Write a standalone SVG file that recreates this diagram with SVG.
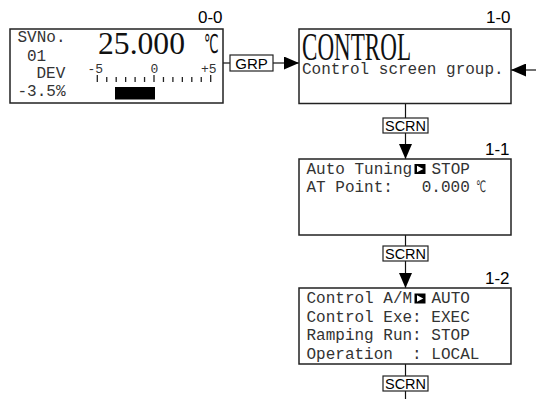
<svg xmlns="http://www.w3.org/2000/svg" width="536" height="399" viewBox="0 0 536 399">
<defs>
<style>
.box{fill:#fff;stroke:#222;stroke-width:1.5}
.lbl{fill:#fff;stroke:#222;stroke-width:1.2}
.ln{fill:none;stroke:#111;stroke-width:1.2}
.mono{font-family:"Liberation Mono","DejaVu Sans Mono",monospace;font-size:16px;fill:#333}
.big{font-family:"Liberation Serif","DejaVu Serif",serif;fill:#111}
.sans{font-family:"Liberation Sans",Arial,sans-serif;font-size:15px;fill:#000}
.id{font-family:"Liberation Sans",Arial,sans-serif;font-size:17px;fill:#000;text-anchor:end}
.tick{stroke:#222;stroke-width:1.3}
</style>
<marker id="ah" markerUnits="userSpaceOnUse" markerWidth="15" markerHeight="13" refX="15" refY="6.5" orient="auto">
<path d="M0,0 L15,6.5 L0,13 z" fill="#000"/>
</marker>
<g id="mk"><rect x="0" y="0" width="11" height="10" fill="#000"/><path d="M2.5,1.7 L2.5,8.3 L8.8,5 z" fill="#fff"/></g>
</defs>

<g id="connectors">
<path class="ln" d="M223,63 H230"/>
<path class="ln" d="M273,63 H299" marker-end="url(#ah)"/>
<path class="ln" d="M536,70 H511" marker-end="url(#ah)"/>
<path class="ln" d="M405.5,103.5 V118"/>
<path class="ln" d="M405.5,133 V159" marker-end="url(#ah)"/>
<path class="ln" d="M405.5,235 V246"/>
<path class="ln" d="M405.5,261 V288" marker-end="url(#ah)"/>
<path class="ln" d="M405.5,364 V376"/>
<path class="ln" d="M405.5,391 V399"/>
<g id="grp"><rect class="lbl" x="230" y="55" width="43" height="16"/><text class="sans" x="251.5" y="68.5" text-anchor="middle">GRP</text></g>
<g id="scrn1"><rect class="lbl" x="383" y="118" width="45" height="15"/><text class="sans" x="405.5" y="131" text-anchor="middle" textLength="41" lengthAdjust="spacingAndGlyphs">SCRN</text></g>
<g id="scrn2"><rect class="lbl" x="383" y="246" width="45" height="15"/><text class="sans" x="405.5" y="259" text-anchor="middle" textLength="41" lengthAdjust="spacingAndGlyphs">SCRN</text></g>
<g id="scrn3"><rect class="lbl" x="383" y="376" width="45" height="15"/><text class="sans" x="405.5" y="389" text-anchor="middle" textLength="41" lengthAdjust="spacingAndGlyphs">SCRN</text></g>
</g>

<g id="node-0-0">
<text class="id" x="222.5" y="23">0-0</text>
<rect class="box" x="10" y="29" width="213" height="74"/>
<text class="mono" x="17.5" y="42">SVNo.</text>
<text class="mono" x="27" y="61">01</text>
<text class="mono" x="36.5" y="78">DEV</text>
<text class="mono" x="17.5" y="96">-3.5%</text>
<text class="big" x="98" y="54" style="font-size:31px" textLength="87" lengthAdjust="spacingAndGlyphs">25.000</text>
<text transform="translate(204,53) scale(0.5,1)" style="font-family:'DejaVu Sans',sans-serif;font-size:26px;fill:#111">℃</text>
<text class="mono" x="87.5" y="73" style="font-size:13px">-5</text>
<text class="mono" x="154.5" y="73" style="font-size:13px" text-anchor="middle">0</text>
<text class="mono" x="201" y="73" style="font-size:13px">+5</text>
<g>
<line class="tick" x1="97.3" y1="75" x2="97.3" y2="82"/>
<line class="tick" x1="106.75" y1="77" x2="106.75" y2="82"/>
<line class="tick" x1="116.2" y1="77" x2="116.2" y2="82"/>
<line class="tick" x1="125.65" y1="77" x2="125.65" y2="82"/>
<line class="tick" x1="135.1" y1="77" x2="135.1" y2="82"/>
<line class="tick" x1="144.55" y1="77" x2="144.55" y2="82"/>
<line class="tick" x1="154" y1="75" x2="154" y2="82"/>
<line class="tick" x1="163.45" y1="77" x2="163.45" y2="82"/>
<line class="tick" x1="172.9" y1="77" x2="172.9" y2="82"/>
<line class="tick" x1="182.35" y1="77" x2="182.35" y2="82"/>
<line class="tick" x1="191.8" y1="77" x2="191.8" y2="82"/>
<line class="tick" x1="201.25" y1="77" x2="201.25" y2="82"/>
<line class="tick" x1="210.7" y1="75" x2="210.7" y2="82"/>
</g>
<rect x="115" y="87" width="40" height="12.5" fill="#000"/>
</g>

<g id="node-1-0">
<text class="id" x="510.5" y="23">1-0</text>
<rect class="box" x="299" y="29" width="212" height="74.5"/>
<text class="big" x="302" y="60" style="font-size:40px" textLength="109" lengthAdjust="spacingAndGlyphs">CONTROL</text>
<text class="mono" x="302" y="74">Control screen group.</text>
</g>

<g id="node-1-1">
<text class="id" x="509.5" y="155">1-1</text>
<rect class="box" x="299" y="159" width="212" height="76"/>
<text class="mono" x="306.5" y="173.5">Auto Tuning</text>
<use href="#mk" x="414.5" y="164"/>
<text class="mono" x="431.5" y="173.5">STOP</text>
<text class="mono" x="306.5" y="191.5" xml:space="preserve">AT Point:   0.000</text>
<text transform="translate(476,191.5) scale(0.55,1)" style="font-family:'DejaVu Sans',sans-serif;font-size:16px;fill:#333">℃</text>
</g>

<g id="node-1-2">
<text class="id" x="509.5" y="283.5">1-2</text>
<rect class="box" x="299" y="288" width="212" height="76"/>
<text class="mono" x="306.5" y="303">Control A/M</text>
<use href="#mk" x="414.5" y="293.5"/>
<text class="mono" x="431.5" y="303">AUTO</text>
<text class="mono" x="306.5" y="321.5" xml:space="preserve">Control Exe: EXEC</text>
<text class="mono" x="306.5" y="340" xml:space="preserve">Ramping Run: STOP</text>
<text class="mono" x="306.5" y="358.5" xml:space="preserve">Operation  : LOCAL</text>
</g>
</svg>
